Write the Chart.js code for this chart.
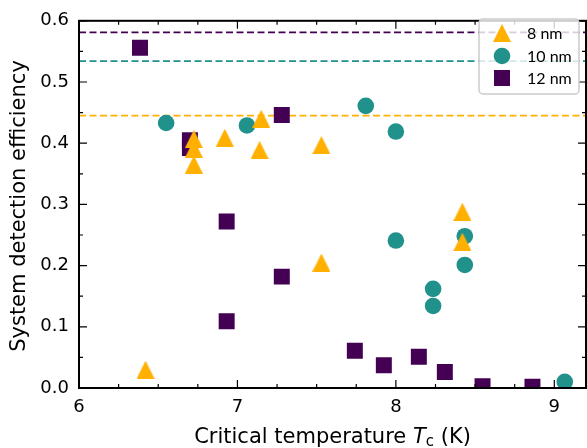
<!DOCTYPE html>
<html>
<head>
<meta charset="utf-8">
<script src="https://cdn.jsdelivr.net/npm/chart.js@4.4.1/dist/chart.umd.min.js"></script>
<style>
body { margin: 0; background: #fff; }
</style>
</head>
<body>
<canvas id="chart" width="587" height="448"></canvas>
<script>
// thickness labels and colours
var names = ['8 nm', '10 nm', '12 nm'];
var colors = ['#ffb000', '#21918c', '#440154'];

// critical temperature (K) and system detection efficiency
var tc8  = [6.42, 6.725, 6.725, 6.725, 6.92, 7.15, 7.14, 7.53, 7.53, 8.42, 8.42];
var sde8 = [0.030, 0.407, 0.391, 0.365, 0.409, 0.440, 0.389, 0.397, 0.205, 0.288, 0.239];

var tc10  = [6.55, 7.06, 7.81, 8.0, 8.0, 8.435, 8.435, 8.235, 8.235, 9.066];
var sde10 = [0.433, 0.429, 0.461, 0.419, 0.241, 0.248, 0.201, 0.162, 0.134, 0.010];

var tc12  = [6.385, 6.70, 6.70, 7.28, 6.932, 6.932, 7.28, 7.741, 7.924, 8.145, 8.309, 8.547, 8.862];
var sde12 = [0.556, 0.405, 0.392, 0.446, 0.272, 0.109, 0.182, 0.061, 0.037, 0.051, 0.026, 0.003, 0.002];

// dashed reference levels for 8, 10, 12 nm
var limits = [0.445, 0.534, 0.581];

var xRange = [6, 9.2];
var yRange = [0, 0.6];
var xTicks = [6, 7, 8, 9];
var yTicks = [0, 0.1, 0.2, 0.3, 0.4, 0.5, 0.6];

function pts(xs, ys) {
  var out = [];
  for (var i = 0; i < xs.length; i++) out.push({x: xs[i], y: ys[i]});
  return out;
}

// matplotlib-like triangle (width == height)
function makeTriangle(size, color) {
  var c = document.createElement('canvas');
  c.width = size; c.height = size;
  var g = c.getContext('2d');
  g.fillStyle = color;
  g.beginPath();
  g.moveTo(size / 2, 0);
  g.lineTo(size, size);
  g.lineTo(0, size);
  g.closePath();
  g.fill();
  return c;
}
var tri = makeTriangle(18, colors[0]);

function drawMarker(ctx, k, x, y) {
  ctx.fillStyle = colors[k];
  ctx.beginPath();
  if (k == 0) {
    ctx.moveTo(x, y - 9); ctx.lineTo(x + 9, y + 9); ctx.lineTo(x - 9, y + 9);
    ctx.closePath();
  } else if (k == 1) {
    ctx.arc(x, y, 8.3, 0, Math.PI * 2);
  } else {
    ctx.rect(x - 8, y - 8, 16, 16);
  }
  ctx.fill();
}

var datasets = [
  { label: names[0], data: pts(tc8, sde8), pointStyle: tri, pointRadius: 9, backgroundColor: colors[0], borderWidth: 0, clip: 0 },
  { label: names[1], data: pts(tc10, sde10), pointStyle: 'circle', pointRadius: 8.3, backgroundColor: colors[1], borderWidth: 0, clip: 0 },
  { label: names[2], data: pts(tc12, sde12), pointStyle: 'rect', pointRadius: 11.3, backgroundColor: colors[2], borderWidth: 0, clip: 0 }
];
for (var k = 0; k < limits.length; k++) {
  datasets.push({
    label: 'limit ' + names[k],
    data: [{x: xRange[0], y: limits[k]}, {x: xRange[1], y: limits[k]}],
    showLine: true, pointRadius: 0, borderColor: colors[k], borderWidth: 1.8,
    borderDash: [7, 3.5], clip: 0
  });
}

var framePlugin = {
  id: 'frame',
  afterDraw: function(chart) {
    var ctx = chart.ctx, a = chart.chartArea;
    var xs = chart.scales.x, ys = chart.scales.y;
    ctx.save();
    ctx.strokeStyle = '#000';
    ctx.lineWidth = 1.2;
    ctx.beginPath();
    // x ticks, bottom and top
    for (var v = xRange[0]; v <= xRange[1] + 1e-9; v += 0.25) {
      var px = xs.getPixelForValue(v);
      var len = Math.abs(v - Math.round(v)) < 1e-6 ? 8 : 4;
      ctx.moveTo(px, a.bottom); ctx.lineTo(px, a.bottom - len);
      ctx.moveTo(px, a.top); ctx.lineTo(px, a.top + len);
    }
    // y ticks, left and right
    for (var i = 0; i <= 12; i++) {
      var yv = i * 0.05;
      var py = ys.getPixelForValue(yv);
      var l2 = i % 2 == 0 ? 8 : 4;
      ctx.moveTo(a.left, py); ctx.lineTo(a.left + l2, py);
      ctx.moveTo(a.right, py); ctx.lineTo(a.right - l2, py);
    }
    ctx.stroke();
    ctx.lineWidth = 2;
    ctx.strokeRect(a.left, a.top, a.right - a.left, a.bottom - a.top);

    // legend
    var lx = 479, ly = 19, lw = 100, lh = 75, r = 4;
    ctx.beginPath();
    ctx.moveTo(lx + r, ly);
    ctx.arcTo(lx + lw, ly, lx + lw, ly + lh, r);
    ctx.arcTo(lx + lw, ly + lh, lx, ly + lh, r);
    ctx.arcTo(lx, ly + lh, lx, ly, r);
    ctx.arcTo(lx, ly, lx + lw, ly, r);
    ctx.closePath();
    ctx.fillStyle = 'rgba(255,255,255,0.8)';
    ctx.fill();
    ctx.strokeStyle = '#cccccc';
    ctx.lineWidth = 1.5;
    ctx.stroke();
    var rows = [33, 56, 78];
    ctx.font = '16px Lato';
    ctx.textBaseline = 'middle';
    ctx.textAlign = 'left';
    for (var k = 0; k < names.length; k++) {
      drawMarker(ctx, k, 502, rows[k]);
      ctx.fillStyle = '#000';
      ctx.fillText(names[k], 527, rows[k] + 1);
    }

    // axis titles
    ctx.fillStyle = '#000';
    var f = '"DejaVu Sans", sans-serif';
    var fs = 21;
    var p1 = 'Critical temperature ', p2 = 'T', p3 = 'c', p4 = ' (K)';
    ctx.font = fs + 'px ' + f;
    var w1 = ctx.measureText(p1).width, w4 = ctx.measureText(p4).width;
    ctx.font = 'italic ' + fs + 'px ' + f;
    var w2 = ctx.measureText(p2).width;
    ctx.font = '15px ' + f;
    var w3 = ctx.measureText(p3).width;
    var total = w1 + w2 + w3 + w4;
    var x0 = (a.left + a.right) / 2 - total / 2, base = 443;
    ctx.textBaseline = 'alphabetic';
    ctx.font = fs + 'px ' + f;
    ctx.fillText(p1, x0, base);
    ctx.font = 'italic ' + fs + 'px ' + f;
    ctx.fillText(p2, x0 + w1, base);
    ctx.font = '15px ' + f;
    ctx.fillText(p3, x0 + w1 + w2, base + 3);
    ctx.font = fs + 'px ' + f;
    ctx.fillText(p4, x0 + w1 + w2 + w3, base);

    ctx.translate(20, 206);
    ctx.rotate(-Math.PI / 2);
    ctx.textAlign = 'center';
    ctx.textBaseline = 'middle';
    ctx.fillText('System detection efficiency', 0, 0);
    ctx.restore();
  }
};

new Chart(document.getElementById('chart'), {
  type: 'scatter',
  data: { datasets: datasets },
  options: {
    responsive: false,
    animation: false,
    events: [],
    layout: { padding: { top: 13, right: 1, left: 0, bottom: 0 }, autoPadding: false },
    plugins: { legend: { display: false }, tooltip: { enabled: false } },
    scales: {
      x: {
        type: 'linear', min: xRange[0], max: xRange[1],
        grid: { display: false, drawTicks: false },
        border: { display: false },
        afterBuildTicks: function(s) { s.ticks = xTicks.map(function(v) { return {value: v}; }); },
        afterFit: function(s) { s.height = 60; },
        ticks: { color: '#000', padding: 9, maxRotation: 0, font: { family: '"DejaVu Sans"', size: 18 },
                 callback: function(v) { return String(v); } }
      },
      y: {
        type: 'linear', min: yRange[0], max: yRange[1],
        grid: { display: false, drawTicks: false },
        border: { display: false },
        afterBuildTicks: function(s) { s.ticks = yTicks.map(function(v) { return {value: v}; }); },
        afterFit: function(s) { s.width = 79; },
        ticks: { color: '#000', padding: 10, font: { family: '"DejaVu Sans"', size: 18 },
                 callback: function(v) { return v.toFixed(1); } }
      }
    }
  },
  plugins: [framePlugin]
});
</script>
</body>
</html>
